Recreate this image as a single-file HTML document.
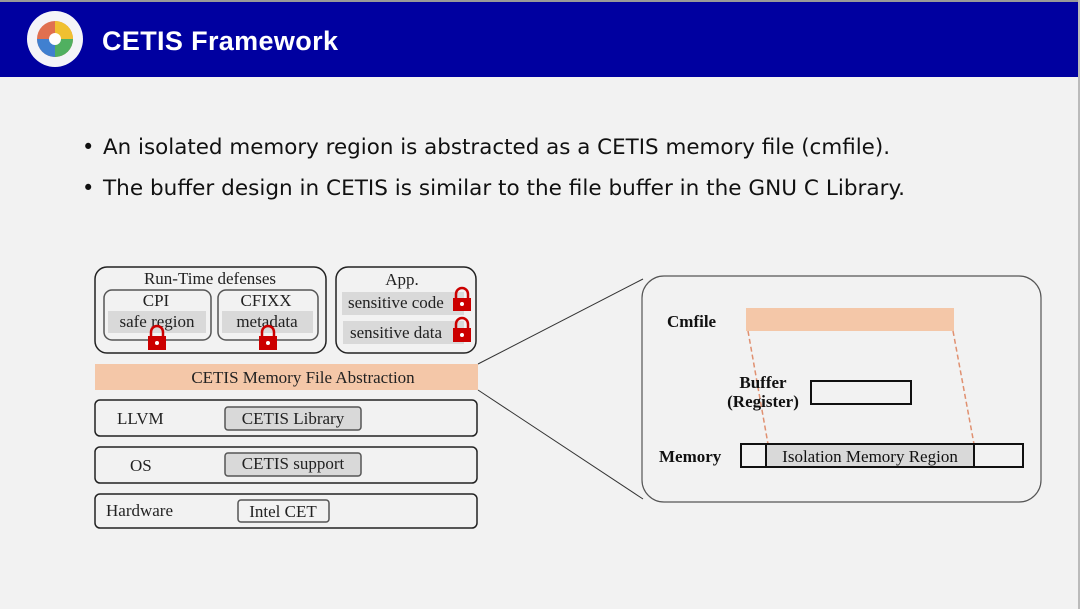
<!DOCTYPE html>
<html><head><meta charset="utf-8"><style>
body{margin:0;width:1080px;height:609px;overflow:hidden;background:#f2f2f2;font-family:"Liberation Sans",sans-serif}
</style></head><body>
<svg width="1080" height="609" xmlns="http://www.w3.org/2000/svg" style="position:absolute;left:0;top:0">
<rect x="0" y="0" width="1080" height="609" fill="#f2f2f2"/>
<rect x="0" y="0" width="1080" height="2" fill="#999"/>
<rect x="0" y="2" width="1080" height="75" fill="#0000a0"/>
<circle cx="55" cy="39" r="28" fill="#f4f4f8"/>
<circle cx="55" cy="39" r="18" fill="#e07050"/>
<path d="M55 39 L55 21 A18 18 0 0 1 73 39 Z" fill="#f0c030"/>
<path d="M55 39 L73 39 A18 18 0 0 1 55 57 Z" fill="#50b060"/>
<path d="M55 39 L55 57 A18 18 0 0 1 37 39 Z" fill="#4080d0"/>
<circle cx="55" cy="39" r="6" fill="#fff"/>
<text x="102" y="50" font-size="27" font-weight="bold" fill="#fff" textLength="236">CETIS Framework</text>
<g font-size="21" fill="#111" font-family="DejaVu Sans,sans-serif">
<text x="82" y="154">•</text><text x="103" y="154" textLength="787" lengthAdjust="spacingAndGlyphs">An isolated memory region is abstracted as a CETIS memory file (cmfile).</text>
<text x="82" y="195">•</text><text x="103" y="195" textLength="802" lengthAdjust="spacingAndGlyphs">The buffer design in CETIS is similar to the file buffer in the GNU C Library.</text>
</g>
<g font-family="Liberation Serif,serif" fill="#222" stroke-width="1.5">
<rect x="95" y="267" width="231" height="86" rx="12" fill="none" stroke="#222"/>
<text x="210" y="284" font-size="17" text-anchor="middle">Run-Time defenses</text>
<rect x="104" y="290" width="107" height="50" rx="8" fill="none" stroke="#555"/>
<rect x="218" y="290" width="100" height="50" rx="8" fill="none" stroke="#555"/>
<rect x="108" y="311" width="98" height="22" fill="#d9d9d9"/>
<rect x="222" y="311" width="91" height="22" fill="#d9d9d9"/>
<text x="156" y="306" font-size="17" text-anchor="middle">CPI</text>
<text x="157" y="327" font-size="17" text-anchor="middle">safe region</text>
<text x="266" y="306" font-size="17" text-anchor="middle">CFIXX</text>
<text x="267" y="327" font-size="17" text-anchor="middle">metadata</text>
<rect x="336" y="267" width="140" height="86" rx="12" fill="none" stroke="#222"/>
<text x="402" y="285" font-size="17" text-anchor="middle">App.</text>
<rect x="342" y="292" width="122" height="23" fill="#d9d9d9"/>
<rect x="343" y="321" width="121" height="23" fill="#d9d9d9"/>
<text x="348" y="308" font-size="17">sensitive code</text>
<text x="350" y="338" font-size="17">sensitive data</text>
<rect x="95" y="364" width="383" height="26" fill="#f4c7a8"/>
<text x="303" y="383" font-size="17" text-anchor="middle">CETIS Memory File Abstraction</text>
<rect x="95" y="400" width="382" height="36" rx="5" fill="none" stroke="#222"/>
<text x="117" y="424" font-size="17">LLVM</text>
<rect x="225" y="407" width="136" height="23" rx="3" fill="#d9d9d9" stroke="#555"/>
<text x="293" y="424" font-size="17" text-anchor="middle">CETIS Library</text>
<rect x="95" y="447" width="382" height="36" rx="5" fill="none" stroke="#222"/>
<text x="130" y="471" font-size="17">OS</text>
<rect x="225" y="453" width="136" height="23" rx="3" fill="#d9d9d9" stroke="#555"/>
<text x="293" y="469" font-size="17" text-anchor="middle">CETIS support</text>
<rect x="95" y="494" width="382" height="34" rx="5" fill="none" stroke="#222"/>
<text x="106" y="516" font-size="17">Hardware</text>
<rect x="238" y="500" width="91" height="22" rx="3" fill="none" stroke="#555"/>
<text x="283" y="517" font-size="17" text-anchor="middle">Intel CET</text>
</g>
<g fill="#c00">
<g transform="translate(148,328)"><path d="M3 8 V4 a6 6 0 0 1 12 0 V8" fill="none" stroke="#c00" stroke-width="2.5"/><rect x="0" y="8" width="18" height="14"/><circle cx="9" cy="15" r="2" fill="#fff"/></g>
<g transform="translate(259,328)"><path d="M3 8 V4 a6 6 0 0 1 12 0 V8" fill="none" stroke="#c00" stroke-width="2.5"/><rect x="0" y="8" width="18" height="14"/><circle cx="9" cy="15" r="2" fill="#fff"/></g>
<g transform="translate(453,290)"><path d="M3 8 V4 a6 6 0 0 1 12 0 V8" fill="none" stroke="#c00" stroke-width="2.5"/><rect x="0" y="8" width="18" height="13"/><circle cx="9" cy="14" r="2" fill="#fff"/></g>
<g transform="translate(453,320)"><path d="M3 8 V4 a6 6 0 0 1 12 0 V8" fill="none" stroke="#c00" stroke-width="2.5"/><rect x="0" y="8" width="18" height="14"/><circle cx="9" cy="15" r="2" fill="#fff"/></g>
</g>
<line x1="478" y1="364" x2="643" y2="279" stroke="#333" stroke-width="1"/>
<line x1="478" y1="390" x2="643" y2="499" stroke="#333" stroke-width="1"/>
<rect x="642" y="276" width="399" height="226" rx="22" fill="#f2f2f2" stroke="#555" stroke-width="1.2"/>
<g font-family="Liberation Serif,serif" font-weight="bold" fill="#111">
<rect x="746" y="308" width="208" height="23" fill="#f4c7a8"/>
<line x1="748" y1="331" x2="768" y2="444" stroke="#e09070" stroke-width="1.5" stroke-dasharray="5,3"/>
<line x1="953" y1="331" x2="974" y2="444" stroke="#e09070" stroke-width="1.5" stroke-dasharray="5,3"/>
<text x="667" y="327" font-size="17">Cmfile</text>
<text x="763" y="388" font-size="17" text-anchor="middle">Buffer</text>
<text x="763" y="407" font-size="17" text-anchor="middle">(Register)</text>
<rect x="811" y="381" width="100" height="23" fill="none" stroke="#111" stroke-width="2"/>
<text x="659" y="462" font-size="17">Memory</text>
<rect x="741" y="444" width="282" height="23" fill="none" stroke="#111" stroke-width="2"/>
<rect x="766" y="444" width="208" height="23" fill="#d9d9d9" stroke="#111" stroke-width="2"/>
<text x="870" y="462" font-size="17" font-weight="normal" text-anchor="middle">Isolation Memory Region</text>
</g>
<rect x="1078" y="0" width="2" height="609" fill="#bbb"/>
</svg>
</body></html>
